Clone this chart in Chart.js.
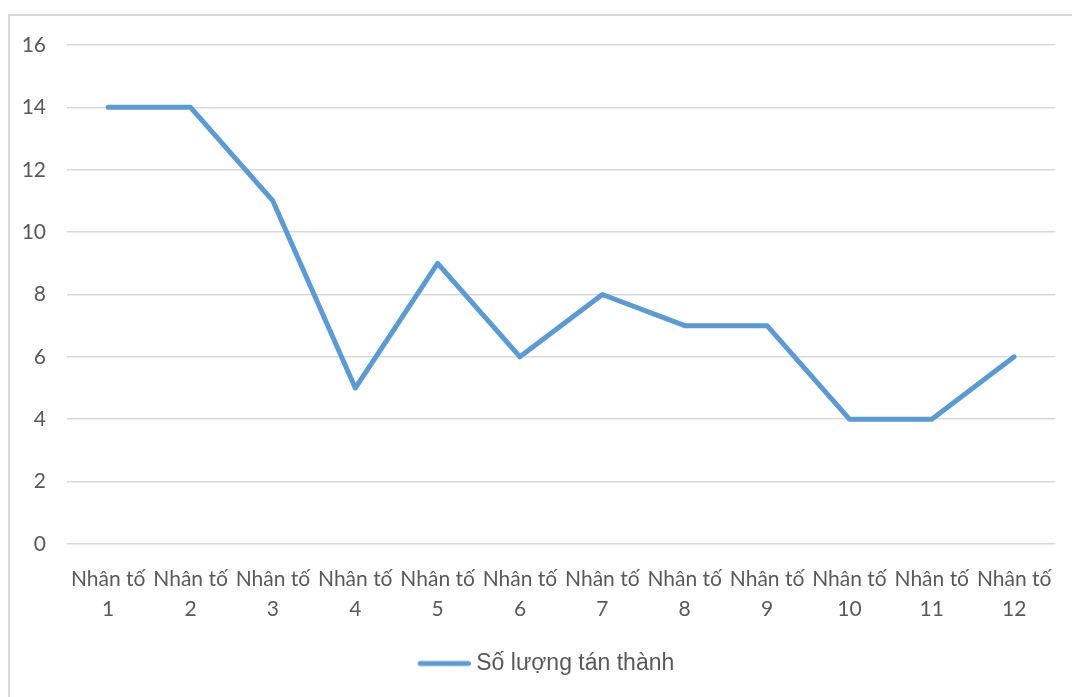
<!DOCTYPE html>
<html>
<head>
<meta charset="utf-8">
<script src="https://cdn.jsdelivr.net/npm/chart.js@4.4.1/dist/chart.umd.min.js"></script>
<style>
  html, body { margin: 0; padding: 0; background: #fff; overflow: hidden; }
  #frame {
    position: absolute; left: 8px; top: 14px; width: 1100px; height: 720px;
    border: 2px solid #d9d9d9; box-sizing: border-box;
  }
  #wrap { position: absolute; left: 0; top: 0; width: 1072px; height: 697px; }
</style>
</head>
<body>
<div id="frame"></div>
<div id="wrap"><canvas id="chart" width="1072" height="697"></canvas></div>
<script>
const categories = [
  ["Nhân tố", "1"], ["Nhân tố", "2"], ["Nhân tố", "3"], ["Nhân tố", "4"],
  ["Nhân tố", "5"], ["Nhân tố", "6"], ["Nhân tố", "7"], ["Nhân tố", "8"],
  ["Nhân tố", "9"], ["Nhân tố", "10"], ["Nhân tố", "11"], ["Nhân tố", "12"]
];
const seriesName = "Số lượng tán thành";
const approvals = [14, 14, 11, 5, 9, 6, 8, 7, 7, 4, 4, 6];
const yTicks = { min: 0, max: 16, step: 2 };

const textColor = "#595959";
const gridColor = "#d9d9d9";
const lineColor = "#5b9bd5";

// Legend marker: a short rounded stroke, placed at the right side of a
// wider transparent image so it sits close to the label text.
const legendMarker = document.createElement("canvas");
legendMarker.width = 94;
legendMarker.height = 10;
(function () {
  const c = legendMarker.getContext("2d");
  c.strokeStyle = lineColor;
  c.lineWidth = 5;
  c.lineCap = "round";
  c.beginPath();
  c.moveTo(43.5, 5);
  c.lineTo(91.5, 5);
  c.stroke();
})();

new Chart(document.getElementById("chart"), {
  type: "line",
  data: {
    labels: categories,
    datasets: [{
      label: seriesName,
      data: approvals,
      borderColor: lineColor,
      backgroundColor: lineColor,
      borderWidth: 5,
      borderCapStyle: "round",
      borderJoinStyle: "round",
      pointRadius: 0,
      pointHoverRadius: 0,
      pointStyle: legendMarker,
      tension: 0,
      fill: false
    }]
  },
  options: {
    responsive: false,
    animation: false,
    layout: { padding: { left: 0, right: 15, top: 45, bottom: 12 } },
    plugins: {
      tooltip: { enabled: false },
      legend: {
        position: "bottom",
        labels: {
          usePointStyle: true,
          pointStyleWidth: 82,
          boxHeight: 23,
          padding: 8,
          color: textColor,
          font: { family: "'Liberation Sans', Arial, sans-serif", size: 23 }
        }
      }
    },
    scales: {
      x: {
        offset: true,
        grid: { display: false, drawTicks: false },
        border: { display: false },
        ticks: {
          autoSkip: false,
          maxRotation: 0,
          minRotation: 0,
          padding: 20,
          color: textColor,
          font: { family: "Lato, 'Open Sans', sans-serif", size: 21, lineHeight: 1.43 }
        }
      },
      y: {
        min: yTicks.min,
        max: yTicks.max,
        afterFit(scale) { scale.width = 67; },
        grid: { color: gridColor, lineWidth: 1.5, drawTicks: false },
        border: { display: false },
        ticks: {
          stepSize: yTicks.step,
          padding: 21,
          color: textColor,
          font: { family: "Lato, 'Open Sans', sans-serif", size: 21 }
        }
      }
    }
  }
});
</script>
</body>
</html>
